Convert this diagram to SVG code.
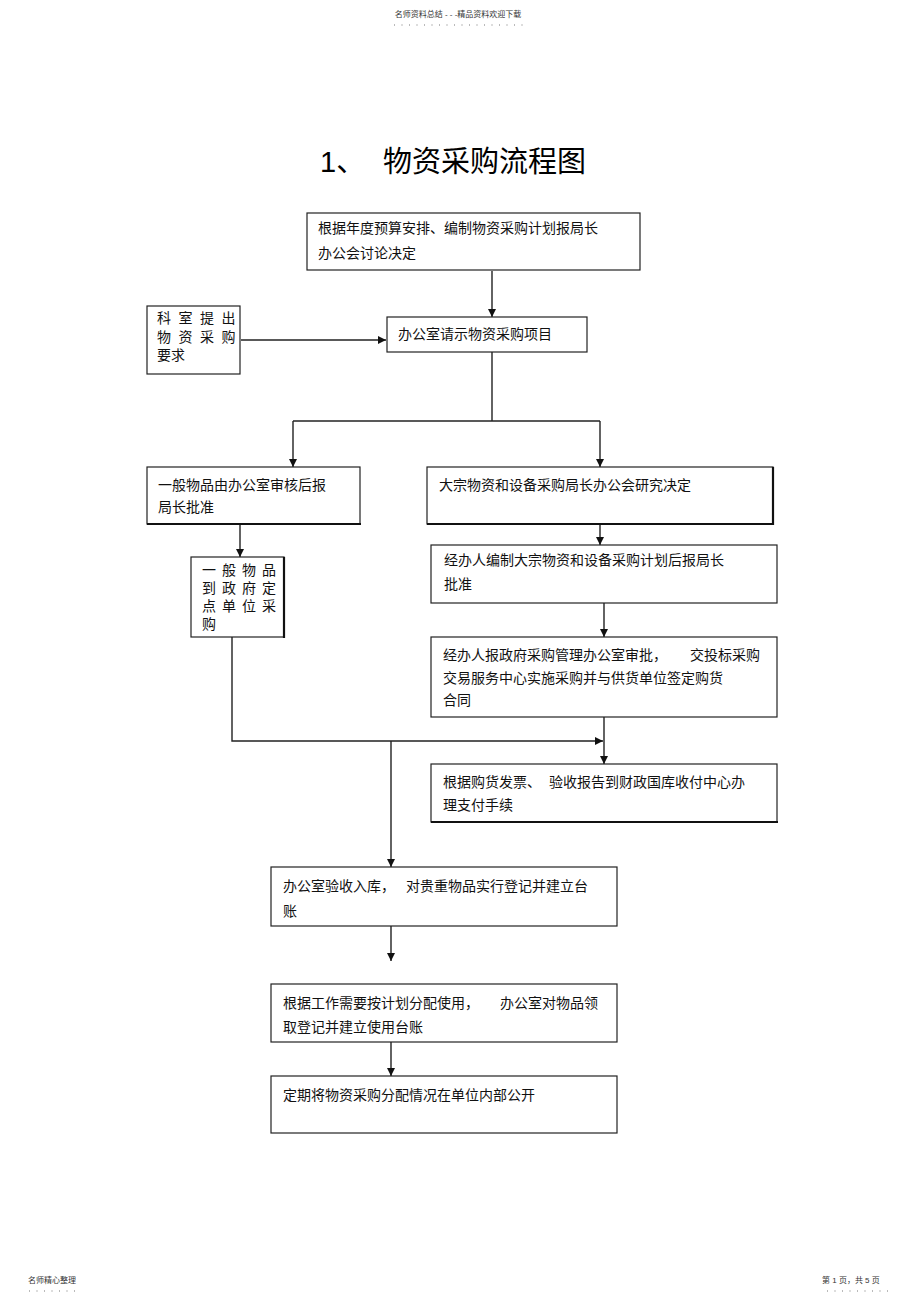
<svg xmlns="http://www.w3.org/2000/svg" width="920" height="1303" viewBox="0 0 920 1303">
<defs>
<marker id="ah" markerWidth="8" markerHeight="8" refX="8" refY="4" orient="auto" markerUnits="userSpaceOnUse">
<path d="M0,0 L8,4 L0,8 z" fill="#111"/>
</marker>
<style>
.bx{fill:#fff;stroke:#222;stroke-width:1.2}
.thk{stroke:#111;stroke-width:2.2;fill:none}
.t{font-family:"Liberation Sans","Noto Sans CJK SC",sans-serif;font-size:14px;fill:#111}
.ts{font-family:"Liberation Sans","Noto Sans CJK SC",sans-serif;font-size:8px;fill:#333}
.title{font-family:"Liberation Sans","Noto Sans CJK SC",sans-serif;font-size:29px;fill:#000}
.ln{stroke:#222;stroke-width:1.4;fill:none}
.ar{stroke:#222;stroke-width:1.4;fill:none;marker-end:url(#ah)}
.dots{stroke:#777;stroke-width:1;stroke-dasharray:1 6.5}
</style>
</defs>
<rect width="920" height="1303" fill="#fff"/>

<g id="header">
<text class="ts" x="458" y="17" text-anchor="middle">名师资料总结 - - -精品资料欢迎下载</text>
<line class="dots" x1="394" y1="25" x2="528" y2="25"/>
</g>

<g id="title">
<text class="title" x="320" y="172">1、</text>
<text class="title" x="383" y="172">物资采购流程图</text>
</g>

<g id="connectors">
<line class="ar" x1="492" y1="271" x2="492" y2="317"/>
<line class="ar" x1="241" y1="340" x2="386" y2="340"/>
<polyline class="ln" points="492,352 492,421"/>
<line class="ln" x1="293" y1="421" x2="600" y2="421"/>
<line class="ar" x1="293" y1="421" x2="293" y2="467"/>
<line class="ar" x1="600" y1="421" x2="600" y2="467"/>
<line class="ar" x1="240" y1="525" x2="240" y2="557"/>
<line class="ar" x1="600" y1="525" x2="600" y2="545"/>
<line class="ar" x1="604" y1="603" x2="604" y2="637"/>
<line class="ar" x1="604" y1="717" x2="604" y2="764"/>
<polyline class="ar" points="232,637 232,741 603,741"/>
<line class="ar" x1="391" y1="741" x2="391" y2="867"/>
<line class="ar" x1="391" y1="926" x2="391" y2="961"/>
<line class="ar" x1="391" y1="1042" x2="391" y2="1076"/>
</g>

<g id="n1">
<rect class="bx" x="307" y="213" width="333" height="57"/>
<text class="t" x="318" y="233">根据年度预算安排、编制物资采购计划报局长</text>
<text class="t" x="318" y="258">办公会讨论决定</text>
</g>

<g id="n2">
<rect class="bx" x="147" y="306" width="93" height="68"/>
<text class="t" x="157" y="323" letter-spacing="7.5">科室提出</text>
<text class="t" x="157" y="342" letter-spacing="7.5">物资采购</text>
<text class="t" x="157" y="360">要求</text>
</g>

<g id="n3">
<rect class="bx" x="387" y="317" width="200" height="35"/>
<text class="t" x="398" y="339">办公室请示物资采购项目</text>
</g>

<g id="n4">
<rect class="bx" x="147" y="467" width="213" height="57"/>
<line class="thk" x1="147" y1="524" x2="361" y2="524"/>
<text class="t" x="158" y="490">一般物品由办公室审核后报</text>
<text class="t" x="158" y="512">局长批准</text>
</g>

<g id="n5">
<rect class="bx" x="427" y="467" width="346" height="57"/>
<line class="thk" x1="427" y1="524" x2="774" y2="524"/>
<line class="thk" x1="773" y1="467" x2="773" y2="525"/>
<text class="t" x="439" y="490">大宗物资和设备采购局长办公会研究决定</text>
</g>

<g id="n6">
<rect class="bx" x="191" y="557" width="93" height="80"/>
<line class="thk" x1="284" y1="557" x2="284" y2="638"/>
<text class="t" x="202" y="575" font-size="13" letter-spacing="6">一般物品</text>
<text class="t" x="202" y="593" font-size="13" letter-spacing="6">到政府定</text>
<text class="t" x="202" y="611" font-size="13" letter-spacing="6">点单位采</text>
<text class="t" x="202" y="629" font-size="13">购</text>
</g>

<g id="n7">
<rect class="bx" x="431" y="545" width="346" height="58"/>
<text class="t" x="444" y="565">经办人编制大宗物资和设备采购计划后报局长</text>
<text class="t" x="444" y="589">批准</text>
</g>

<g id="n8">
<rect class="bx" x="431" y="637" width="346" height="80"/>
<text class="t" x="443" y="660">经办人报政府采购管理办公室审批，</text>
<text class="t" x="690" y="660">交投标采购</text>
<text class="t" x="443" y="683">交易服务中心实施采购并与供货单位签定购货</text>
<text class="t" x="443" y="705">合同</text>
</g>

<g id="n9">
<rect class="bx" x="431" y="764" width="346" height="58"/>
<line class="thk" x1="431" y1="822" x2="778" y2="822"/>
<text class="t" x="443" y="787">根据购货发票、</text>
<text class="t" x="549" y="787">验收报告到财政国库收付中心办</text>
<text class="t" x="443" y="810">理支付手续</text>
</g>

<g id="n10">
<rect class="bx" x="271" y="867" width="346" height="59"/>
<text class="t" x="283" y="891">办公室验收入库，</text>
<text class="t" x="406" y="891">对贵重物品实行登记并建立台</text>
<text class="t" x="283" y="916">账</text>
</g>

<g id="n11">
<rect class="bx" x="271" y="984" width="346" height="58"/>
<text class="t" x="283" y="1008">根据工作需要按计划分配使用，</text>
<text class="t" x="500" y="1008">办公室对物品领</text>
<text class="t" x="283" y="1032">取登记并建立使用台账</text>
</g>

<g id="n12">
<rect class="bx" x="271" y="1076" width="346" height="57"/>
<text class="t" x="283" y="1100">定期将物资采购分配情况在单位内部公开</text>
</g>

<g id="footer">
<text class="ts" x="28" y="1283">名师精心整理</text>
<line class="dots" x1="29" y1="1291" x2="76" y2="1291"/>
<text class="ts" x="822" y="1283">第 1 页，共 5 页</text>
<line class="dots" x1="827" y1="1291" x2="892" y2="1291"/>
</g>
</svg>
